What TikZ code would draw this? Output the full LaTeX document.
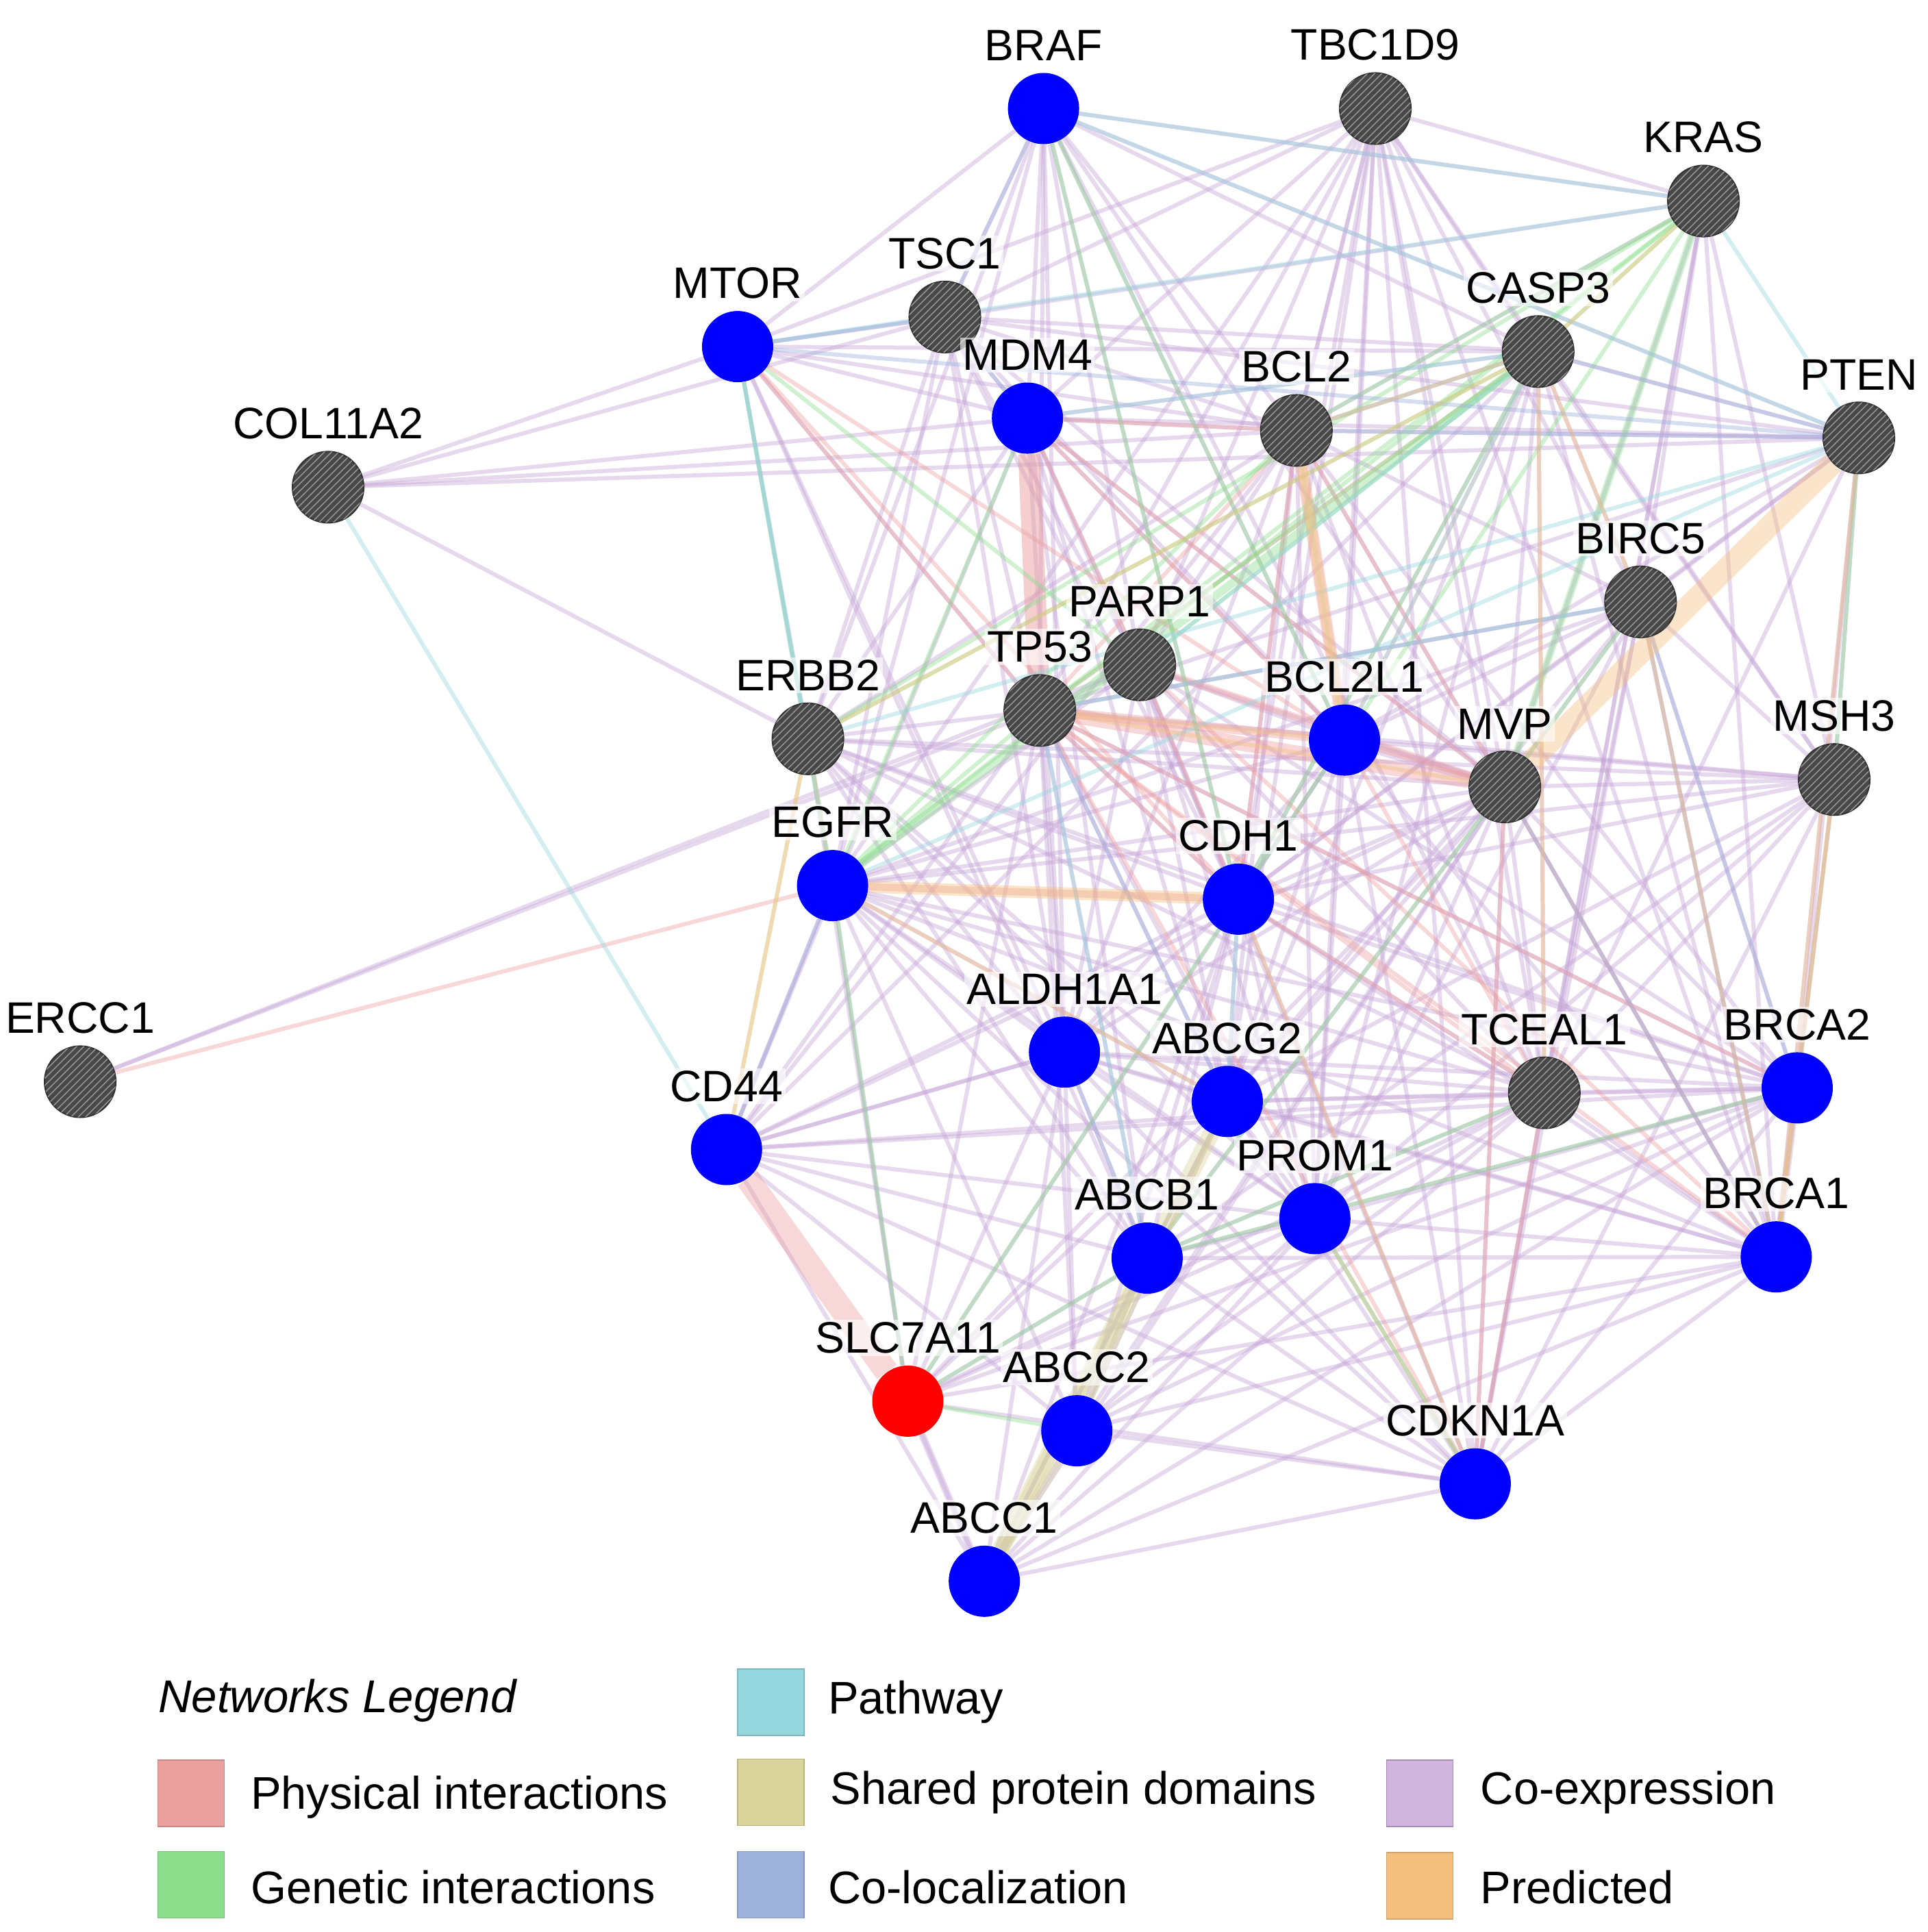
\documentclass[tikz,border=0pt]{standalone}
\usepackage{fontspec}
\setmainfont{Liberation Sans}
\usetikzlibrary{patterns,backgrounds}

\definecolor{physc}{RGB}{235,160,160}
\definecolor{genc}{RGB}{140,222,140}
\definecolor{pathc}{RGB}{150,214,222}
\definecolor{sharedc}{RGB}{216,212,156}
\definecolor{colocc}{RGB}{158,178,220}
\definecolor{coexpc}{RGB}{196,164,214}
\definecolor{predc}{RGB}{244,192,128}
\definecolor{genegray}{RGB}{72,72,72}

\tikzset{
  lbl/.style={font=\fontsize{18.3}{22}\selectfont, inner sep=1pt, yshift=3.6pt,
    fill=white, fill opacity=0.6, text opacity=1},
  gene/.style={circle, minimum size=1.04cm, inner sep=0pt},
  querygene/.style={gene, fill=blue},
  resultgene/.style={gene, fill=genegray, draw=black!80, line width=0.6pt,
    postaction={pattern=north east lines, pattern color=gray!80}},
  seedgene/.style={gene, fill=red},
  edge/.style={line width=1.7pt, draw opacity=0.42},
  phys/.style={edge, draw=physc},
  genet/.style={edge, draw=genc},
  pathw/.style={edge, draw=pathc},
  shared/.style={edge, draw=sharedc},
  coloc/.style={edge, draw=colocc},
  coexp/.style={edge, draw=coexpc},
  pred/.style={edge, draw=predc},
  swatch/.style={minimum width=0.97cm, minimum height=0.97cm, inner sep=0pt},
  legtext/.style={font=\fontsize{19}{23}\selectfont, anchor=west, inner sep=0pt}
}

\begin{document}
\begin{tikzpicture}[x=0.01801cm, y=-0.01801cm]
\useasboundingbox (0,0) rectangle (1563,1566.4);

% genes
\node[querygene, label={[lbl]above:BRAF}] (braf) at (846,88) {};
\node[resultgene, label={[lbl]above:TBC1D9}] (tbc) at (1115,88) {};
\node[resultgene, label={[lbl]above:KRAS}] (kras) at (1381,163) {};
\node[resultgene, label={[lbl]above:TSC1}] (tsc) at (766,257) {};
\node[querygene, label={[lbl]above:MTOR}] (mtor) at (598,281) {};
\node[resultgene, label={[lbl]above:CASP3}] (casp) at (1247,285) {};
\node[querygene, label={[lbl]above:MDM4}] (mdm) at (833,339) {};
\node[resultgene, label={[lbl]above:BCL2}] (bcl) at (1051,349) {};
\node[resultgene, label={[lbl]above:PTEN}] (pten) at (1507,355) {};
\node[resultgene, label={[lbl]above:COL11A2}] (col) at (266,395) {};
\node[resultgene, label={[lbl]above:BIRC5}] (birc) at (1330,488) {};
\node[resultgene, label={[lbl]above:PARP1}] (parp) at (924,539) {};
\node[resultgene, label={[lbl]above:TP53}] (tp) at (843,576) {};
\node[resultgene, label={[lbl]above:ERBB2}] (erbb) at (655,599) {};
\node[querygene, label={[lbl]above:BCL2L1}] (bcll) at (1090,600) {};
\node[resultgene, label={[lbl]above:MVP}] (mvp) at (1220,638) {};
\node[resultgene, label={[lbl]above:MSH3}] (msh) at (1487,632) {};
\node[querygene, label={[lbl]above:EGFR}] (egfr) at (675,718) {};
\node[querygene, label={[lbl]above:CDH1}] (cdh) at (1004,729) {};
\node[querygene, label={[lbl]above:ALDH1A1}] (aldh) at (863,853) {};
\node[querygene, label={[lbl]above:ABCG2}] (abcg) at (995,893) {};
\node[resultgene, label={[lbl]above:TCEAL1}] (tceal) at (1252,886) {};
\node[querygene, label={[lbl]above:BRCA2}] (brcaB) at (1457,882) {};
\node[resultgene, label={[lbl]above:ERCC1}] (ercc) at (65,877) {};
\node[querygene, label={[lbl]above:CD44}] (cd) at (589,932) {};
\node[querygene, label={[lbl]above:PROM1}] (prom) at (1066,988) {};
\node[querygene, label={[lbl]above:ABCB1}] (abcb) at (930,1020) {};
\node[querygene, label={[lbl]above:BRCA1}] (brcaA) at (1440,1019) {};
\node[seedgene, label={[lbl]above:SLC7A11}] (slc) at (736,1136) {};
\node[querygene, label={[lbl]above:ABCC2}] (abccB) at (873,1160) {};
\node[querygene, label={[lbl]above:CDKN1A}] (cdkn) at (1196,1203) {};
\node[querygene, label={[lbl]above:ABCC1}] (abccA) at (798,1282) {};

% interactions
\begin{scope}[on background layer]
% co-expression
\foreach \a/\b in {braf/tsc, braf/mtor, braf/mdm, braf/tp, braf/casp, braf/bcl, braf/mvp,
  braf/parp, braf/erbb, braf/egfr, braf/kras, braf/pten, braf/tceal, braf/bcll, braf/cdh, braf/aldh,
  tbc/bcl, tbc/bcll, tbc/casp, tbc/mvp, tbc/tceal, tbc/cdh, tbc/mdm, tbc/tsc, tbc/kras,
  tbc/mtor, tbc/msh, tbc/birc, tbc/prom, tbc/cdkn, tbc/bcl, tbc/parp, tbc/tp, tbc/egfr,
  tbc/brcaA, tbc/abcg,
  kras/birc, kras/msh, kras/brcaA, kras/tceal, kras/tsc, kras/bcl, kras/mvp, kras/cdkn,
  tsc/mtor, tsc/mdm, tsc/bcl, tsc/casp, tsc/pten, tsc/tp, tsc/egfr, tsc/erbb, tsc/mvp,
  tsc/bcll, tsc/cdh, tsc/parp, tsc/aldh,
  mtor/mdm, mtor/bcl, mtor/casp, mtor/col, mtor/tp, mtor/erbb, mtor/aldh, mtor/abcb,
  casp/bcl, casp/mvp, casp/birc, casp/pten, casp/cdh, casp/brcaA, casp/mdm, casp/cd, casp/msh,
  casp/tceal, casp/abcg, casp/prom,
  mdm/bcl, mdm/bcll, mdm/cdh, mdm/pten, mdm/aldh, mdm/abcb, mdm/parp, mdm/mvp, mdm/erbb,
  mdm/cd, mdm/abcg,
  bcl/parp, bcl/pten, bcl/mvp, bcl/cdh, bcl/birc, bcl/cd, bcl/erbb, bcl/brcaB, bcl/tceal,
  bcl/prom, bcl/aldh, bcl/abcg,
  pten/birc, pten/tp, pten/bcll, pten/brcaA, pten/cdh, pten/msh, pten/tceal, pten/brcaB,
  birc/mvp, birc/tp, birc/cdkn, birc/bcll, birc/tceal, birc/msh, birc/egfr, birc/brcaA,
  birc/cdh, birc/abcg, birc/prom, birc/brcaB,
  parp/tp, parp/bcll, parp/brcaB, parp/mvp, parp/cdh, parp/egfr, parp/abcg, parp/aldh,
  parp/prom, parp/cdkn, parp/tceal,
  tp/cdh, tp/erbb, tp/aldh, tp/abcg, tp/brcaB, tp/birc, tp/prom, tp/abcb, tp/msh, tp/cd,
  tp/slc, tp/abccB,
  erbb/egfr, erbb/cdh, erbb/msh, erbb/mvp, erbb/abcb, erbb/brcaB, erbb/aldh, erbb/tceal,
  erbb/abcg, erbb/slc, erbb/prom,
  bcll/cdh, bcll/egfr, bcll/abcg, bcll/brcaA, bcll/cdkn, bcll/aldh,
  bcll/prom, bcll/slc, bcll/msh,
  mvp/msh, mvp/tceal, mvp/brcaA, mvp/brcaB, mvp/cdh, mvp/abcg, mvp/abcb,
  mvp/prom, mvp/aldh, mvp/egfr, mvp/abccA, mvp/abccB, mvp/cdkn, mvp/slc, mvp/cd,
  msh/brcaA, msh/tceal, msh/cdh, msh/egfr, msh/brcaB, msh/abcg, msh/abcb, msh/prom, msh/cdkn,
  egfr/cd, egfr/abcg, egfr/aldh, egfr/abcb, egfr/prom, egfr/tceal, egfr/brcaB, egfr/slc,
  egfr/cdkn, egfr/abccB, egfr/brcaA,
  cdh/aldh, cdh/abcg, cdh/prom, cdh/abcb, cdh/tceal, cdh/cdkn, cdh/cd, cdh/abccB, cdh/brcaA,
  cdh/brcaB, cdh/abccA,
  aldh/abcg, aldh/abcb, aldh/prom, aldh/cd, aldh/slc, aldh/abccA, aldh/abccB, aldh/tceal,
  aldh/cdkn, aldh/brcaB, aldh/brcaA,
  abcg/abcb, abcg/prom, abcg/slc, abcg/cdkn, abcg/tceal, abcg/brcaB, abcg/brcaA,
  abcg/abccB, abcg/abccA,
  tceal/brcaB, tceal/brcaA, tceal/cdkn, tceal/prom, tceal/abcb, tceal/abccA, tceal/abccB,
  tceal/slc,
  brcaB/brcaA, brcaB/prom, brcaB/abcb, brcaB/abccB, brcaB/cd, brcaB/abccA, brcaB/cdkn,
  brcaB/slc,
  cd/abccA, cd/abccB, cd/abcb, cd/prom, cd/aldh, cd/cdkn, cd/tceal,
  prom/abcb, prom/abccB, prom/slc, prom/brcaA, prom/abccA, prom/cdkn,
  abcb/abccA, abcb/abccB, abcb/slc, abcb/cdkn, abcb/brcaA,
  brcaA/cdkn, brcaA/abccB, brcaA/abccA, brcaA/slc,
  slc/abccA, slc/cdkn, abccB/abccA, abccB/cdkn, cdkn/abccA,
  ercc/tp, ercc/parp, col/tsc, col/mdm, col/bcl, col/pten, col/erbb}
  \draw[coexp] (\a) -- (\b);
\draw[coexp, line width=4pt] (bcll) -- (mvp);
\draw[coexp, line width=3pt] (slc) -- (abccA);
\draw[coexp, line width=3pt] (brcaB) -- (brcaA);
% physical interactions
\draw[phys, line width=9pt, draw opacity=0.5] (mdm) -- (tp);
\draw[phys, line width=10pt] (cd) -- (slc);
\draw[phys, line width=6pt] (tp) -- (mvp);
\draw[phys, line width=4pt] (tp) -- (bcll);
\draw[phys, line width=5pt] (bcl) -- (bcll);
\draw[phys, line width=3pt] (egfr) -- (cdh);
\draw[phys, line width=3pt] (parp) -- (mvp);
\foreach \a/\b in {egfr/ercc, mdm/bcl, mdm/parp, bcl/tp, mtor/tp, mtor/cdh, mtor/bcll,
  tp/cdkn, tp/brcaA, parp/brcaA, mvp/cdkn, bcll/tceal, tp/tceal, cdh/tceal, casp/bcll,
  bcl/mvp, tp/cdh, casp/tp, bcll/mvp, tceal/cdkn, tp/brcaB, mdm/mvp, bcl/cdh, mvp/brcaA,
  mdm/bcll, parp/cdh}
  \draw[phys] (\a) -- (\b);
% genetic interactions
\draw[genet, line width=3pt] (kras) -- (mvp);
\draw[genet, line width=3.5pt] (casp) -- (egfr);
\foreach \a/\b in {braf/cdh, braf/bcll, kras/egfr, kras/erbb, kras/tp, kras/bcl, kras/cdh,
  kras/casp, casp/erbb, casp/tp, mtor/egfr, mtor/parp, egfr/slc, cdh/slc, slc/abccB,
  pten/msh, prom/cdkn, abcb/slc, parp/casp, tp/egfr, mdm/egfr, birc/mvp, casp/cdh,
  mvp/abcb, tceal/abcb, brcaB/abcb, bcl/egfr}
  \draw[genet] (\a) -- (\b);
% pathway
\foreach \a/\b in {braf/kras, kras/mtor, kras/pten, mtor/erbb, mtor/egfr, casp/parp,
  pten/egfr, pten/erbb, col/cd, braf/pten, casp/bcll, cdh/abcg, tp/abcb, bcl/casp,
  mdm/casp, birc/tp}
  \draw[pathw] (\a) -- (\b);
% shared protein domains
\draw[shared, line width=7pt] (abccA) -- (abcg);
\draw[shared, line width=5pt] (abccA) -- (abcb);
\draw[shared, line width=4pt] (abccA) -- (abccB);
\foreach \a/\b in {abccB/abcg, abccB/abcb, erbb/cd, erbb/egfr, msh/brcaB, brcaA/brcaB,
  bcl/bcll, prom/cdkn, abcg/abcb}
  \draw[shared] (\a) -- (\b);
% co-localization
\foreach \a/\b in {mtor/tsc, birc/brcaA, birc/brcaB, pten/casp, mtor/pten, tsc/mdm,
  aldh/abcb, egfr/cd, tp/abcg, braf/tsc, bcl/pten, mvp/brcaA}
  \draw[coloc] (\a) -- (\b);
% predicted
\draw[pred, line width=9pt] (pten) -- (mvp);
\draw[pred, line width=5pt] (egfr) -- (cdh);
\draw[pred, line width=4pt] (bcl) -- (bcll);
\foreach \a/\b in {casp/birc, casp/tceal, kras/casp, casp/erbb, birc/brcaA, msh/brcaA,
  pten/brcaA, tp/bcll, cdh/cdkn, egfr/abcg, erbb/cd, bcl/casp, tp/mvp}
  \draw[pred] (\a) -- (\b);
\end{scope}

% legend
\node[anchor=west, inner sep=0pt, font=\fontsize{19.1}{23}\selectfont\itshape] (legtitle) at (128,1379) {Networks Legend};
\node[swatch, fill=physc, draw=physc!85!black] (swphys) at (155,1454) {};
\node[swatch, fill=genc, draw=genc!85!black] (swgen) at (155,1528) {};
\node[swatch, fill=pathc, draw=pathc!85!black] (swpath) at (625,1380) {};
\node[swatch, fill=sharedc, draw=sharedc!85!black] (swshared) at (625,1453) {};
\node[swatch, fill=colocc, draw=colocc!85!black] (swcoloc) at (625,1528) {};
\node[swatch, fill=coexpc!80!white, draw=coexpc!85!black] (swcoexp) at (1151,1454) {};
\node[swatch, fill=predc, draw=predc!85!black] (swpred) at (1151,1529) {};
\node[legtext] (txphys) at (203,1457) {Physical interactions};
\node[legtext] (txgen) at (203,1530) {Genetic interactions};
\node[legtext] (txpath) at (671,1380) {Pathway};
\node[legtext] (txshared) at (673,1453) {Shared protein domains};
\node[legtext] (txcoloc) at (671,1530) {Co-localization};
\node[legtext] (txcoexp) at (1200,1453) {Co-expression};
\node[legtext] (txpred) at (1200,1530) {Predicted};
\end{tikzpicture}
\end{document}
